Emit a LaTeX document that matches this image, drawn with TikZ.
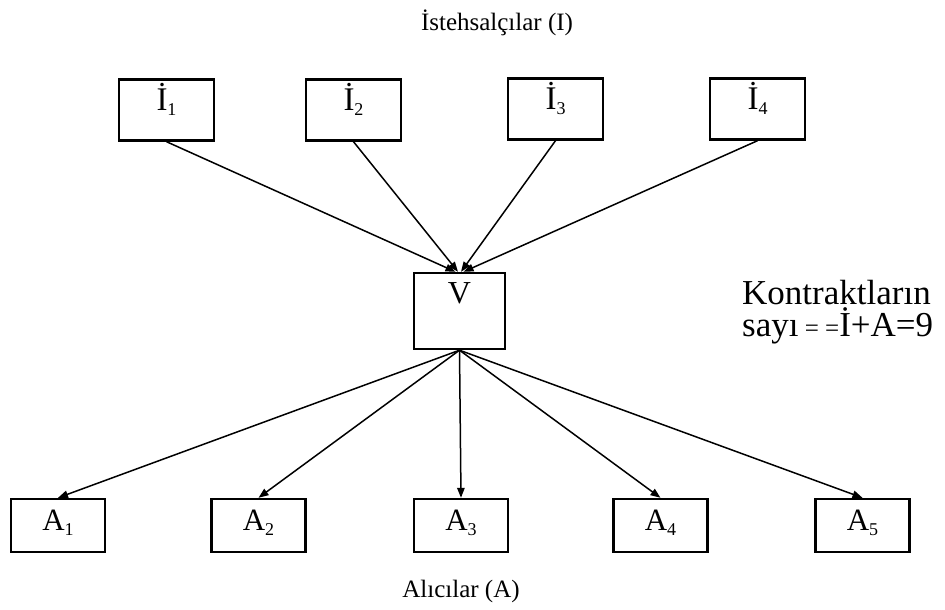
\documentclass[tikz,border=0pt]{standalone}
\usepackage{fontspec}
\setmainfont{Liberation Serif}
\usetikzlibrary{arrows.meta}
\newcommand\lowsub[1]{\raisebox{-5pt}{\fontsize{18}{18}\selectfont #1}}
\begin{document}
\begin{tikzpicture}[x=1pt,y=-1pt,
  box/.style={draw,line width=2.4pt,inner sep=0pt},
  ibox/.style={box,minimum width=95pt,text height=31pt,text depth=30pt,font=\fontsize{33}{33}\selectfont},
  vbox/.style={box,minimum width=91pt,text height=30pt,text depth=46pt,font=\fontsize{32}{32}\selectfont},
  abox/.style={box,minimum width=94pt,text height=31pt,text depth=22pt,font=\fontsize{31}{31}\selectfont},
  link/.style={line width=1.5pt,-{Triangle[length=10pt,width=7.5pt]}},
  caption/.style={inner sep=0pt,anchor=base,font=\fontsize{25}{25}\selectfont}]
\useasboundingbox (0,0) rectangle (945,610);

% title and bottom caption
\node[caption] (top) at (497,31) {İstehsalçılar (I)};
\node[caption] (bottom) at (461,597) {Alıcılar (A)};

% producers
\node[ibox] (i1) at (166.5,110) {İ\lowsub{1}};
\node[ibox] (i2) at (353.5,110) {İ\lowsub{2}};
\node[ibox] (i3) at (555.5,109) {İ\lowsub{3}};
\node[ibox] (i4) at (757.5,109) {İ\lowsub{4}};

% intermediary
\node[vbox] (v) at (459.5,311) {V};

% buyers
\node[abox] (a1) at (58,525.5) {A\lowsub{1}};
\node[abox] (a2) at (258.5,525.5) {A\lowsub{2}};
\node[abox] (a3) at (461,525.5) {A\lowsub{3}};
\node[abox] (a4) at (660.5,525.5) {A\lowsub{4}};
\node[abox] (a5) at (862.5,525.5) {A\lowsub{5}};

% contract count
\node[inner sep=0pt,anchor=base west,font=\fontsize{35}{35}\selectfont] (k1) at (742,304) {Kontraktların};
\node[inner sep=0pt,anchor=base west,font=\fontsize{35}{35}\selectfont] (k2) at (742,336)
  {sayı{\fontsize{25}{25}\selectfont{} = =}İ+A=9};

% producers to intermediary
\draw[link] (i1.south) -- ([xshift=-4pt]v.north);
\draw[link] (i2.south) -- ([xshift=-1.5pt]v.north);
\draw[link] (i3.south) -- ([xshift=1.5pt]v.north);
\draw[link] (i4.south) -- ([xshift=4pt]v.north);

% intermediary to buyers
\foreach \a in {a1,a2,a3,a4,a5}
  \draw[link] (v.south) -- (\a.north);
\end{tikzpicture}
\end{document}
